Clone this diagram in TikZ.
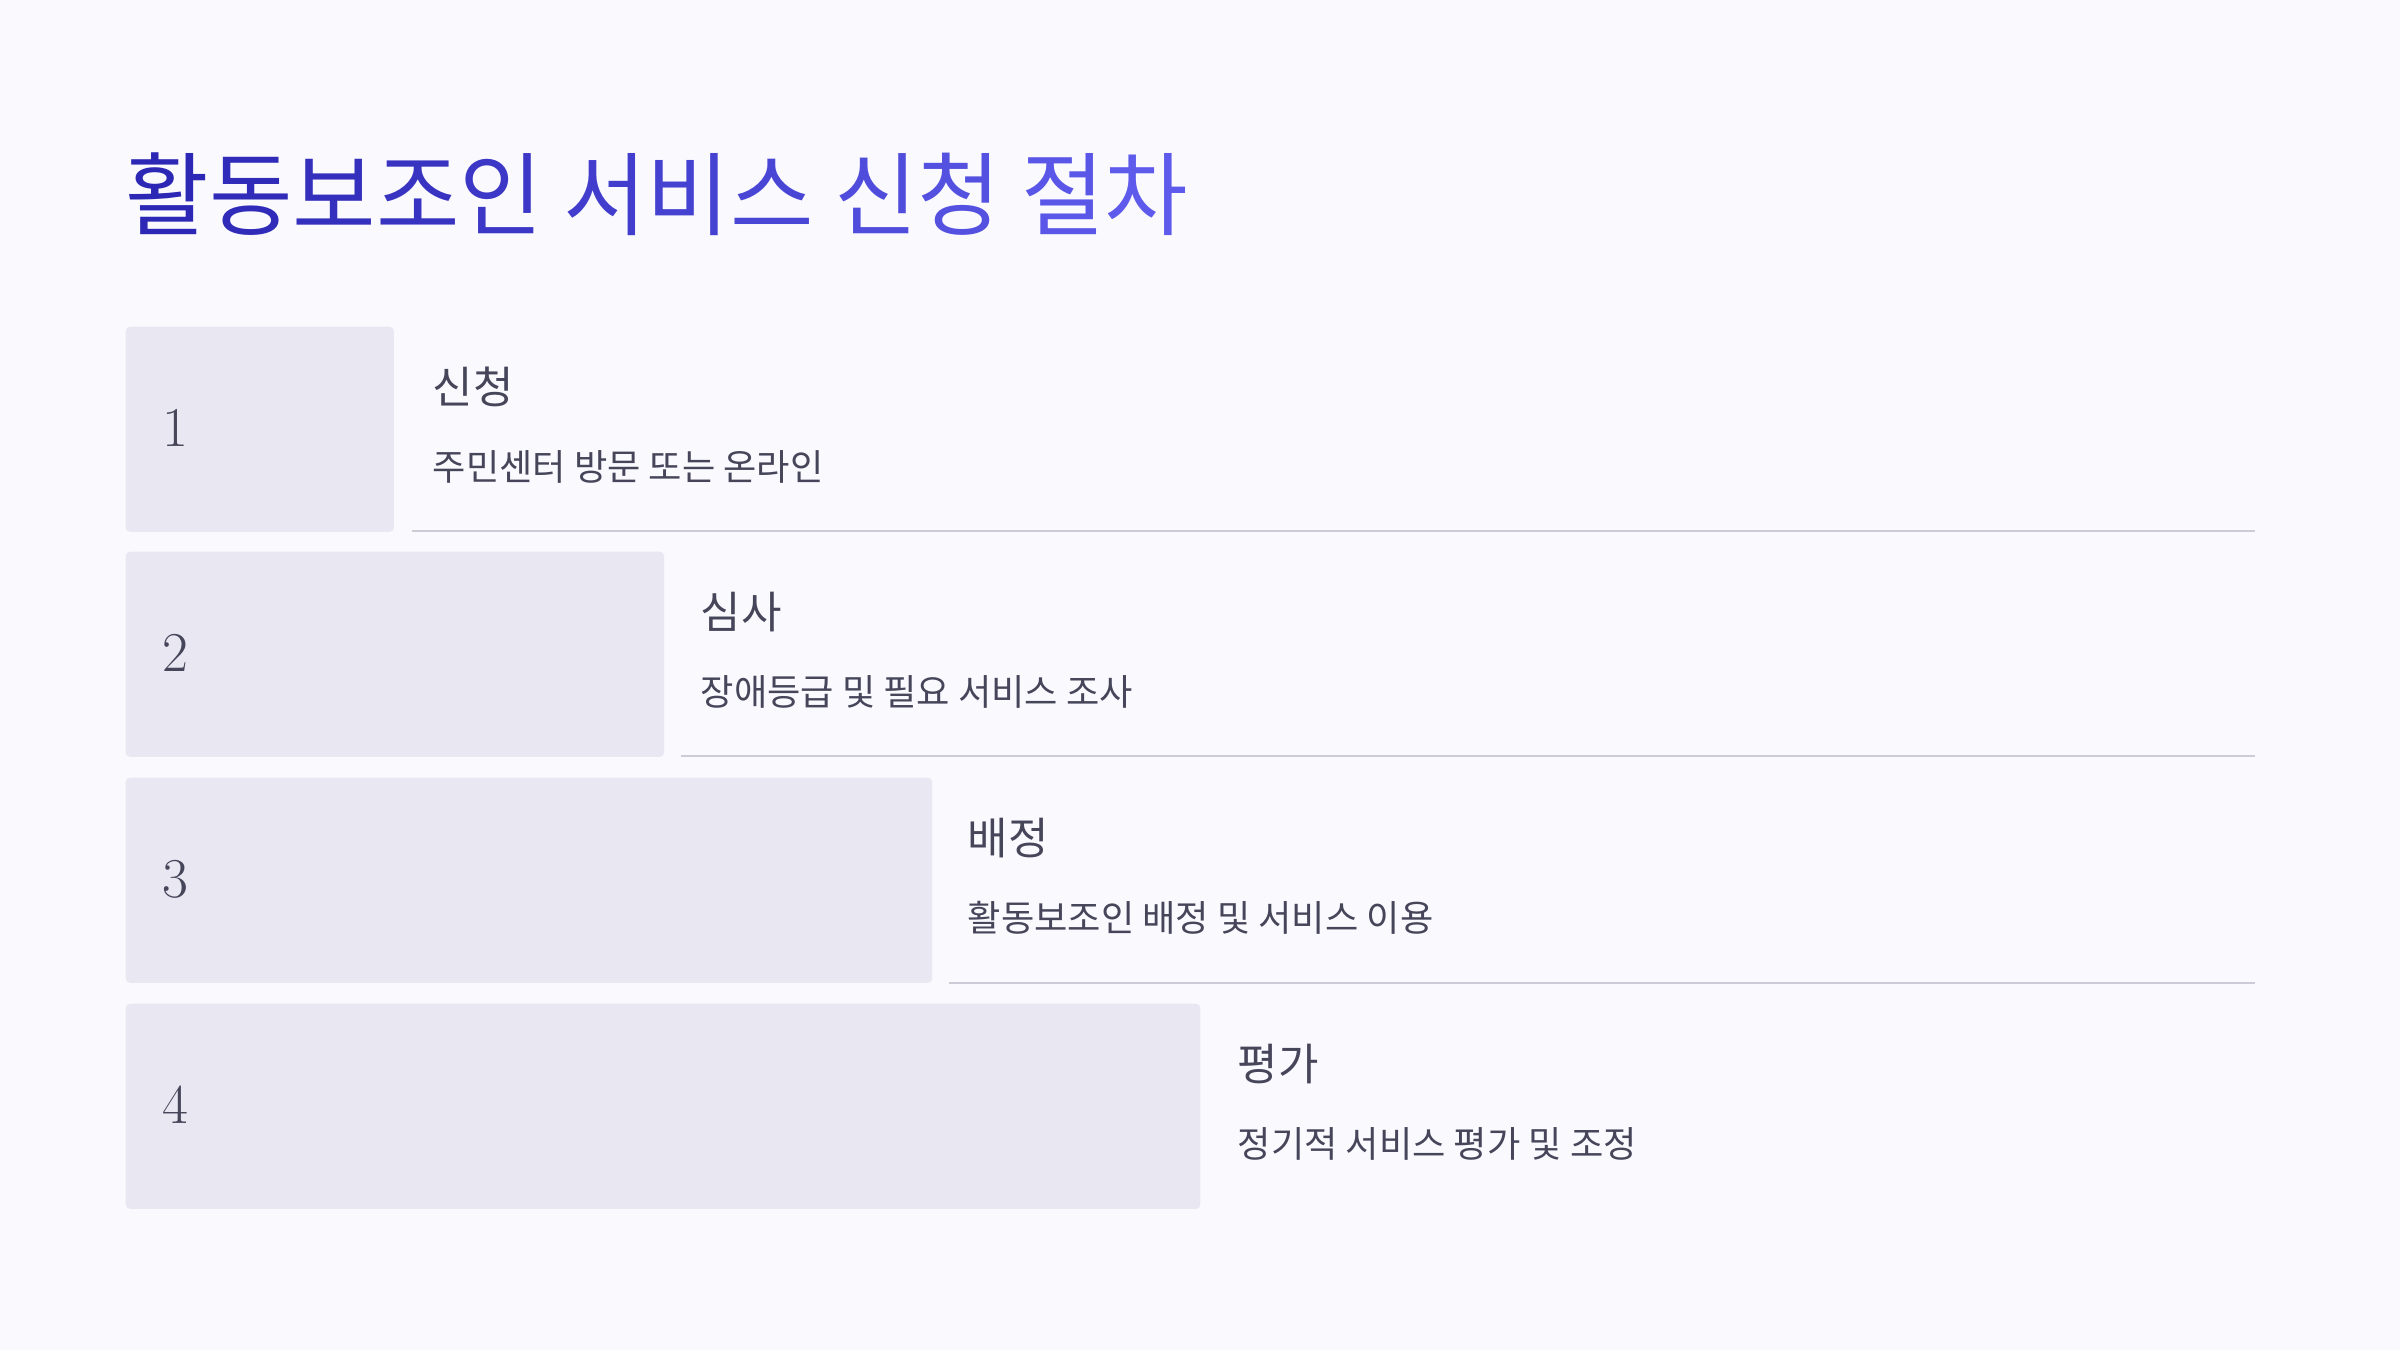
\documentclass[tikz,border=0pt]{standalone}
\usepackage{fontspec}
\setmainfont{Noto Sans CJK KR}
\newfontfamily\krfont{Noto Sans CJK KR}
\newfontfamily\numfont{Latin Modern Roman}
\definecolor{bgc}{HTML}{F9F9FE}
\definecolor{boxc}{HTML}{E9E8F2}
\definecolor{linec}{HTML}{CDCCD6}
\definecolor{txtc}{HTML}{46455A}
\definecolor{tA}{HTML}{2C27B4}
\definecolor{tB}{HTML}{5E5AEB}
\tikzset{
  stepbox/.style={fill=boxc, draw=none, rounded corners=1.2pt, anchor=north west, minimum height=2.05cm, minimum width=#1, inner sep=0},
  numtxt/.style={anchor=west, inner sep=0, text=txtc, font=\numfont\fontsize{16}{16}\selectfont},
  headtxt/.style={anchor=west, inner sep=0, text=txtc, font=\krfont\fontsize{12.5}{14}\selectfont},
  desctxt/.style={anchor=west, inner sep=0, text=txtc, font=\krfont\fontsize{10.3}{12}\selectfont},
  sepline/.style={draw=linec, line width=0.6pt},
}
\newcommand{\gc}[2]{{\color{tB!#1!tA}#2}}
\begin{document}
\begin{tikzpicture}[x=0.01cm,y=-0.01cm]
\fill[bgc] (0,0) rectangle (2400,1350);
\useasboundingbox (0,0) rectangle (2400,1350);
\node[anchor=west, inner sep=0, font=\krfont\fontsize{25.8}{30}\selectfont] (title) at (125,194)
 {\gc{0}{활}\gc{8}{동}\gc{16}{보}\gc{24}{조}\gc{32}{인} \gc{44}{서}\gc{52}{비}\gc{60}{스} \gc{72}{신}\gc{80}{청} \gc{92}{절}\gc{100}{차}};
% row 1
\node[stepbox=2.68cm] (b1) at (125,326) {};
\node[numtxt] (n1) at (162,428) {1};
\node[headtxt] (h1) at (432,387) {신청};
\node[desctxt] (d1) at (432,467) {주민센터 방문 또는 온라인};
\coordinate (l1a) at (412,531); \coordinate (l1b) at (2255,531);
\draw[sepline] (l1a) -- (l1b);
% row 2
\node[stepbox=5.38cm] (b2) at (125,551) {};
\node[numtxt] (n2) at (162,653) {2};
\node[headtxt] (h2) at (700,612) {심사};
\node[desctxt] (d2) at (700,692) {장애등급 및 필요 서비스 조사};
\coordinate (l2a) at (681,756); \coordinate (l2b) at (2255,756);
\draw[sepline] (l2a) -- (l2b);
% row 3
\node[stepbox=8.06cm] (b3) at (125,777) {};
\node[numtxt] (n3) at (162,879) {3};
\node[headtxt] (h3) at (967,838) {배정};
\node[desctxt] (d3) at (967,918) {활동보조인 배정 및 서비스 이용};
\coordinate (l3a) at (949,983); \coordinate (l3b) at (2255,983);
\draw[sepline] (l3a) -- (l3b);
% row 4
\node[stepbox=10.74cm] (b4) at (125,1003) {};
\node[numtxt] (n4) at (162,1105) {4};
\node[headtxt] (h4) at (1237,1064) {평가};
\node[desctxt] (d4) at (1237,1144) {정기적 서비스 평가 및 조정};
\end{tikzpicture}
\end{document}
